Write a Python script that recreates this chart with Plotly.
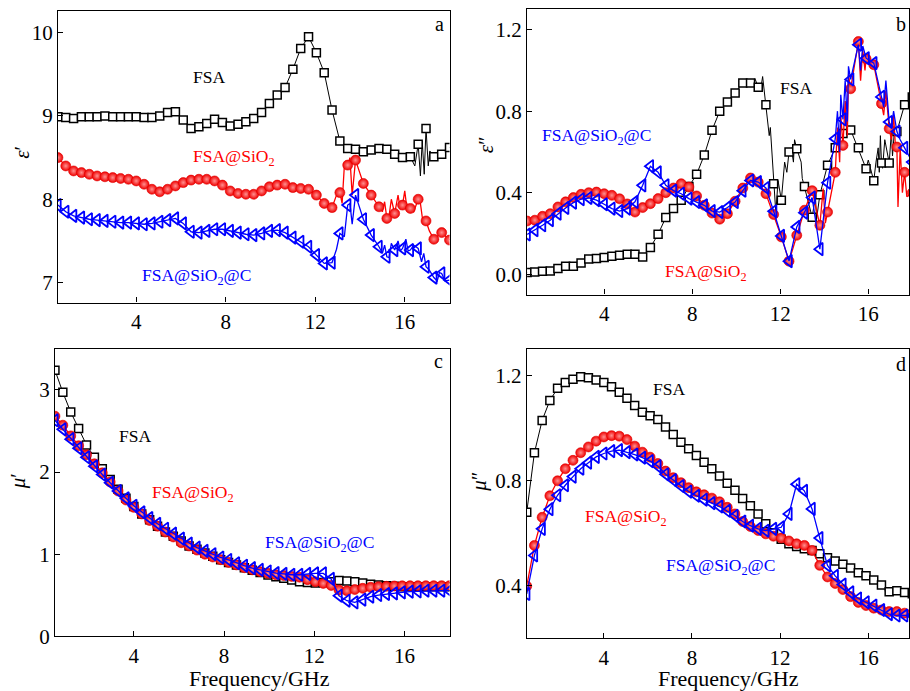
import plotly.graph_objects as go

# ---------------- data ----------------
freq = [0.5, 0.85, 1.2, 1.55, 1.9, 2.25, 2.6, 2.95, 3.3, 3.65, 4.0, 4.35, 4.7, 5.05, 5.4,
        5.75, 6.1, 6.45, 6.8, 7.15, 7.5, 7.85, 8.2, 8.55, 8.9, 9.25, 9.6, 9.95, 10.3, 10.65,
        11.0, 11.35, 11.7, 12.05, 12.4, 12.75, 13.1, 13.45, 13.8, 14.15, 14.5, 14.85, 15.2,
        15.55, 15.9, 16.25, 16.6, 16.95, 17.3, 17.65, 18.0]

# (a) epsilon'
eps1_fsa = [8.99, 8.98, 8.97, 8.99, 8.99, 8.99, 9.00, 8.99, 8.99, 8.99, 8.99, 8.98, 8.98, 9.00, 9.04,
            9.05, 8.95, 8.85, 8.87, 8.91, 8.96, 8.92, 8.88, 8.90, 8.93, 8.97, 9.04, 9.15, 9.25, 9.34,
            9.56, 9.81, 9.95, 9.76, 9.52, 9.07, 8.70, 8.61, 8.60, 8.57, 8.59, 8.61, 8.60, 8.54, 8.50,
            8.51, 8.66, 8.85, 8.51, 8.54, 8.62]
eps1_sio2 = [8.50, 8.40, 8.34, 8.32, 8.30, 8.28, 8.27, 8.26, 8.25, 8.24, 8.22, 8.18, 8.12, 8.09, 8.12,
             8.16, 8.20, 8.23, 8.24, 8.24, 8.22, 8.17, 8.10, 8.07, 8.06, 8.06, 8.10, 8.15, 8.17, 8.18,
             8.14, 8.13, 8.12, 8.05, 7.95, 7.90, 8.08, 8.41, 8.47, 8.19, 8.05, 7.91, 7.77, 7.83, 7.93,
             7.89, 8.00, 7.74, 7.52, 7.60, 7.51]
eps1_c = [7.93, 7.85, 7.80, 7.78, 7.76, 7.75, 7.74, 7.73, 7.72, 7.72, 7.71, 7.70, 7.71, 7.73, 7.75,
          7.77, 7.71, 7.61, 7.60, 7.62, 7.64, 7.64, 7.62, 7.60, 7.58, 7.57, 7.59, 7.62, 7.63, 7.60,
          7.54, 7.49, 7.43, 7.33, 7.23, 7.24, 7.59, 7.93, 8.05, 7.76, 7.57, 7.43, 7.31, 7.39, 7.41,
          7.39, 7.41, 7.19, 7.06, 7.11, 7.03]
# extra (unmarked) noisy points of the measured curves
eps1_fsa_nx = [16.45, 16.7, 16.78, 16.87, 17.05, 17.12]
eps1_fsa_ny = [8.40, 8.28, 8.70, 8.30, 8.40, 8.58]
eps1_sio2_nx = [12.95, 13.2, 13.3, 13.55, 13.65, 13.95, 15.0, 15.1, 15.3, 15.4, 15.7, 15.8, 16.0, 16.1, 16.4, 16.7, 16.8, 17.1]
eps1_sio2_ny = [8.05, 7.95, 8.40, 8.50, 8.05, 8.35, 7.85, 7.97, 7.80, 8.00, 8.05, 7.88, 8.10, 7.88, 7.85, 7.95, 7.75, 7.62]
eps1_c_nx = [12.95, 13.3, 13.55, 13.65, 15.0, 15.1, 15.3, 15.4, 15.7, 15.8, 16.05, 16.15, 16.4, 16.75, 16.85, 17.1, 17.45, 17.55, 17.8]
eps1_c_ny = [7.40, 7.55, 7.95, 7.70, 7.35, 7.45, 7.30, 7.47, 7.50, 7.38, 7.52, 7.38, 7.45, 7.25, 7.35, 7.15, 7.02, 7.12, 7.02]

# (b) epsilon''
eps2_fsa = [0.008, 0.011, 0.015, 0.016, 0.028, 0.039, 0.039, 0.055, 0.074, 0.077, 0.082, 0.088, 0.093,
            0.098, 0.098, 0.085, 0.131, 0.196, 0.278, 0.322, 0.363, 0.43, 0.49, 0.585, 0.706, 0.80,
            0.845, 0.889, 0.938, 0.938, 0.918, 0.832, 0.444, 0.363, 0.60, 0.616, 0.43, 0.28, 0.39,
            0.535, 0.62, 0.69, 0.708, 0.62, 0.518, 0.458, 0.546, 0.546, 0.70, 0.832, 0.87]
eps2_sio2 = [0.261, 0.265, 0.284, 0.297, 0.33, 0.355, 0.376, 0.392, 0.40, 0.403, 0.395, 0.387, 0.37,
             0.345, 0.305, 0.327, 0.346, 0.371, 0.40, 0.423, 0.444, 0.428, 0.384, 0.338, 0.30, 0.27,
             0.297, 0.358, 0.423, 0.472, 0.452, 0.395, 0.293, 0.183, 0.064, 0.191, 0.314, 0.41, 0.24,
             0.305, 0.50, 0.632, 0.91, 1.142, 1.057, 1.028, 0.837, 0.714, 0.624, 0.50, 0.40]
eps2_c = [0.195, 0.216, 0.24, 0.265, 0.297, 0.325, 0.351, 0.368, 0.374, 0.363, 0.343, 0.322, 0.31,
          0.322, 0.355, 0.436, 0.53, 0.50, 0.436, 0.41, 0.395, 0.371, 0.354, 0.338, 0.31, 0.305,
          0.327, 0.354, 0.41, 0.46, 0.452, 0.423, 0.309, 0.188, 0.064, 0.232, 0.302, 0.376, 0.123,
          0.449, 0.665, 0.76, 0.956, 1.126, 1.06, 1.036, 0.87, 0.747, 0.70, 0.62, 0.55]
eps2_fsa_nx = [10.85, 11.1, 11.2, 11.5, 11.55, 11.8, 11.9, 12.2, 12.3, 12.5, 12.6, 12.65, 12.95, 13.0,
               13.6, 13.65, 15.3, 15.7, 16.0, 16.35, 16.45, 16.5, 16.55, 16.65, 16.75, 17.05, 17.1, 17.2]
eps2_fsa_ny = [0.96, 0.90, 0.97, 0.68, 0.72, 0.30, 0.46, 0.55, 0.50, 0.62, 0.55, 0.66, 0.55, 0.47,
               0.38, 0.27, 0.68, 0.57, 0.56, 0.55, 0.62, 0.50, 0.68, 0.52, 0.66, 0.70, 0.58, 0.72]
eps2_sio2_nx = [13.95, 14.05, 14.6, 14.7, 14.75, 14.95, 15.05, 15.1, 15.65, 15.75, 15.85, 16.7, 16.8,
                17.05, 17.15, 17.25, 17.35, 17.45, 17.55, 17.75]
eps2_sio2_ny = [0.42, 0.25, 0.72, 0.55, 0.78, 0.85, 0.68, 0.98, 0.95, 1.10, 1.00, 0.78, 0.90,
                0.66, 0.78, 0.60, 0.33, 0.62, 0.40, 0.38]
eps2_c_nx = [14.6, 14.7, 14.75, 14.95, 15.05, 15.1, 15.65, 15.75, 16.7, 16.8, 17.05, 17.15, 17.45]
eps2_c_ny = [0.80, 0.60, 0.88, 0.95, 0.75, 1.02, 1.00, 1.12, 0.82, 0.95, 0.72, 0.80, 0.66]

# (c) mu'
mu1_fsa = [3.24, 2.97, 2.73, 2.53, 2.33, 2.18, 2.04, 1.91, 1.79, 1.68, 1.58, 1.49, 1.42, 1.34, 1.27,
           1.22, 1.16, 1.10, 1.06, 1.015, 0.974, 0.934, 0.90, 0.87, 0.836, 0.804, 0.776, 0.747, 0.727,
           0.706, 0.686, 0.666, 0.655, 0.65, 0.655, 0.665, 0.68, 0.675, 0.665, 0.65, 0.635, 0.625,
           0.615, 0.61, 0.605, 0.605, 0.605, 0.605, 0.605, 0.605, 0.605]
mu1_sio2 = [2.68, 2.57, 2.44, 2.32, 2.21, 2.10, 1.99, 1.88, 1.77, 1.66, 1.57, 1.49, 1.41, 1.34, 1.27,
            1.21, 1.14, 1.10, 1.05, 1.00, 0.966, 0.934, 0.90, 0.87, 0.836, 0.81, 0.788, 0.767, 0.75,
            0.74, 0.73, 0.72, 0.69, 0.665, 0.645, 0.62, 0.565, 0.555, 0.57, 0.585, 0.597, 0.605,
            0.609, 0.613, 0.615, 0.617, 0.617, 0.617, 0.617, 0.617, 0.617]
mu1_c = [2.63, 2.52, 2.40, 2.29, 2.18, 2.07, 1.97, 1.87, 1.77, 1.68, 1.59, 1.51, 1.44, 1.37, 1.31,
         1.25, 1.19, 1.13, 1.08, 1.04, 1.00, 0.96, 0.93, 0.89, 0.86, 0.83, 0.81, 0.79, 0.77, 0.76,
         0.75, 0.75, 0.76, 0.767, 0.767, 0.70, 0.495, 0.434, 0.414, 0.447, 0.483, 0.503, 0.516,
         0.524, 0.536, 0.544, 0.548, 0.556, 0.556, 0.556, 0.556]

# (d) mu''
mu2_fsa = [0.68, 0.907, 1.03, 1.106, 1.152, 1.174, 1.187, 1.196, 1.192, 1.184, 1.174, 1.158, 1.137,
           1.114, 1.087, 1.061, 1.048, 1.033, 1.005, 0.976, 0.947, 0.922, 0.896, 0.871, 0.846, 0.818,
           0.791, 0.764, 0.733, 0.705, 0.674, 0.636, 0.602, 0.577, 0.56, 0.55, 0.541, 0.535, 0.522,
           0.507, 0.495, 0.482, 0.468, 0.45, 0.438, 0.422, 0.403, 0.378, 0.381, 0.375, 0.37]
mu2_sio2 = [0.399, 0.554, 0.661, 0.743, 0.80, 0.846, 0.878, 0.907, 0.929, 0.951, 0.967, 0.972, 0.97,
            0.957, 0.932, 0.909, 0.89, 0.866, 0.837, 0.812, 0.793, 0.774, 0.758, 0.747, 0.734, 0.72,
            0.699, 0.674, 0.645, 0.626, 0.611, 0.598, 0.589, 0.582, 0.571, 0.56, 0.554, 0.535, 0.478,
            0.434, 0.409, 0.386, 0.359, 0.337, 0.325, 0.315, 0.308, 0.302, 0.302, 0.296, 0.296]
mu2_c = [0.369, 0.516, 0.617, 0.692, 0.745, 0.783, 0.816, 0.846, 0.869, 0.891, 0.904, 0.913, 0.917,
         0.909, 0.90, 0.888, 0.875, 0.856, 0.825, 0.803, 0.78, 0.759, 0.743, 0.728, 0.715, 0.702,
         0.686, 0.667, 0.645, 0.629, 0.617, 0.61, 0.617, 0.623, 0.674, 0.787, 0.762, 0.693, 0.582,
         0.478, 0.438, 0.405, 0.375, 0.352, 0.337, 0.325, 0.308, 0.292, 0.287, 0.287, 0.287]
mu2_fsa_nx = [16.75, 16.8, 16.85]
mu2_fsa_ny = [0.39, 0.37, 0.39]

sample_names = ["FSA", "FSA@SiO<sub>2</sub>", "FSA@SiO<sub>2</sub>@C"]
x_ticks = [4, 8, 12, 16]

# ---------------- styling ----------------
FONT = "Liberation Serif"
BLACK, RED, BLUE = "#000000", "#ff0000", "#0000ff"

fig = go.Figure()


def merged(xs, ys, nx, ny):
    pts = sorted(list(zip(xs, ys)) + list(zip(nx, ny)))
    return [p[0] for p in pts], [p[1] for p in pts]


def add_series(ax, y, kind, nx=(), ny=()):
    xa, ya = ("x", "y") if ax == 1 else (f"x{ax}", f"y{ax}")
    lx, ly = merged(freq, y, list(nx), list(ny))
    if kind == "fsa":
        col, lw = BLACK, 1.0
        marker = dict(symbol="square", size=8, color="white", line=dict(color=BLACK, width=1.5))
    elif kind == "sio2":
        col, lw = RED, 1.3
        marker = dict(symbol="circle", size=10, color="#f00000",
                      gradient=dict(type="radial", color="#ff9090"),
                      line=dict(color="#e00000", width=0.6))
    else:
        col, lw = BLUE, 1.3
        marker = dict(symbol="triangle-left-open", size=11, color=BLUE, line=dict(color=BLUE, width=1.8))
    fig.add_trace(go.Scatter(x=lx, y=ly, mode="lines", line=dict(color=col, width=lw),
                             xaxis=xa, yaxis=ya, showlegend=False, hoverinfo="skip"))
    fig.add_trace(go.Scatter(x=freq, y=y, mode="markers", marker=marker,
                             xaxis=xa, yaxis=ya, showlegend=False))


add_series(1, eps1_fsa, "fsa", eps1_fsa_nx, eps1_fsa_ny)
add_series(1, eps1_sio2, "sio2", eps1_sio2_nx, eps1_sio2_ny)
add_series(1, eps1_c, "c", eps1_c_nx, eps1_c_ny)
add_series(2, eps2_fsa, "fsa", eps2_fsa_nx, eps2_fsa_ny)
add_series(2, eps2_sio2, "sio2", eps2_sio2_nx, eps2_sio2_ny)
add_series(2, eps2_c, "c", eps2_c_nx, eps2_c_ny)
add_series(3, mu1_fsa, "fsa")
add_series(3, mu1_sio2, "sio2")
add_series(3, mu1_c, "c")
add_series(4, mu2_fsa, "fsa", mu2_fsa_nx, mu2_fsa_ny)
add_series(4, mu2_sio2, "sio2")
add_series(4, mu2_c, "c")

W, H = 910, 691          # target picture size (layout fractions are computed on it)
H_FIG = 702              # rendered page height (viewport is squeezed to 691 when photographed)
axis_common = dict(showline=True, linecolor=BLACK, linewidth=1.2, mirror=True, ticks="inside",
                   ticklen=5, tickwidth=1, tickcolor=BLACK, showgrid=False, zeroline=False,
                   tickfont=dict(family=FONT, size=21, color=BLACK))


def xd(a, b):
    return [a / W, min(b / W, 1.0)]


def yd(top, bottom):
    return [1 - bottom / H, 1 - top / H]


fig.update_layout(
    width=W, height=H_FIG, margin=dict(l=0, r=0, t=0, b=0),
    paper_bgcolor="white", plot_bgcolor="white",
    font=dict(family=FONT, color=BLACK),
    xaxis=dict(domain=xd(58, 450), range=[0.5, 18], tickvals=x_ticks, anchor="y", **axis_common),
    yaxis=dict(domain=yd(11, 303), range=[6.76, 10.26], tickvals=[7, 8, 9, 10], anchor="x", **axis_common),
    xaxis2=dict(domain=xd(527.7, 910), range=[0.5, 17.85], tickvals=x_ticks, anchor="y2", **axis_common),
    yaxis2=dict(domain=yd(9.3, 295), range=[-0.1, 1.3], tickvals=[0, 0.4, 0.8, 1.2], tickformat=".1f",
                anchor="x2", **axis_common),
    xaxis3=dict(domain=xd(55, 450), range=[0.5, 18], tickvals=x_ticks, anchor="y3", **axis_common),
    yaxis3=dict(domain=yd(349.3, 637.3), range=[0, 3.5], tickvals=[0, 1, 2, 3], anchor="x3", **axis_common),
    xaxis4=dict(domain=xd(527.3, 910), range=[0.5, 17.85], tickvals=x_ticks, anchor="y4", **axis_common),
    yaxis4=dict(domain=yd(350, 639.3), range=[0.2, 1.3], tickvals=[0.4, 0.8, 1.2], tickformat=".1f",
                anchor="x4", **axis_common),
)


def ann(text, px, py, color=BLACK, size=17.5, angle=0):
    fig.add_annotation(text=text, x=px / W, y=1 - py / H, xref="paper", yref="paper",
                       xanchor="center", yanchor="middle", showarrow=False, textangle=angle,
                       font=dict(family=FONT, size=size, color=color))


# series labels
ann(sample_names[0], 209, 77)
ann(sample_names[1], 234, 158, RED)
ann(sample_names[2], 197, 277, BLUE)
ann(sample_names[0], 797, 88)
ann(sample_names[2], 597, 137, BLUE)
ann(sample_names[1], 707, 273, RED)
ann(sample_names[0], 135, 437)
ann(sample_names[1], 193, 494, RED)
ann(sample_names[2], 320, 544, BLUE)
ann(sample_names[0], 670, 390)
ann(sample_names[1], 627, 518, RED)
ann(sample_names[2], 721, 567, BLUE)

# panel letters
ann("a", 440, 24, size=20)
ann("b", 902, 24, size=20)
ann("c", 439, 362, size=20)
ann("d", 902, 365, size=20)

# axis titles
ann("<i>ε</i>′", 22, 152, size=21, angle=-90)
ann("<i>ε</i>″", 486, 145, size=21, angle=-90)
ann("<i>μ</i>′", 18, 482, size=21, angle=-90)
ann("<i>μ</i>″", 480, 482, size=21, angle=-90)
ann("Frequency/GHz", 260, 679, size=22)
ann("Frequency/GHz", 729, 679, size=22)

PAGE_JS = (
    "document.documentElement.style.margin='0';document.documentElement.style.padding='0';"
    "document.documentElement.style.overflow='hidden';"
    "document.body.style.margin='0';document.body.style.padding='0';document.body.style.overflow='hidden';"
    "var gd=document.getElementById('{plot_id}');gd.style.position='fixed';"
    "gd.style.left='0px';gd.style.top='0px';"
)

fig.write_html("out.html", config={"displayModeBar": False}, post_script=PAGE_JS)
